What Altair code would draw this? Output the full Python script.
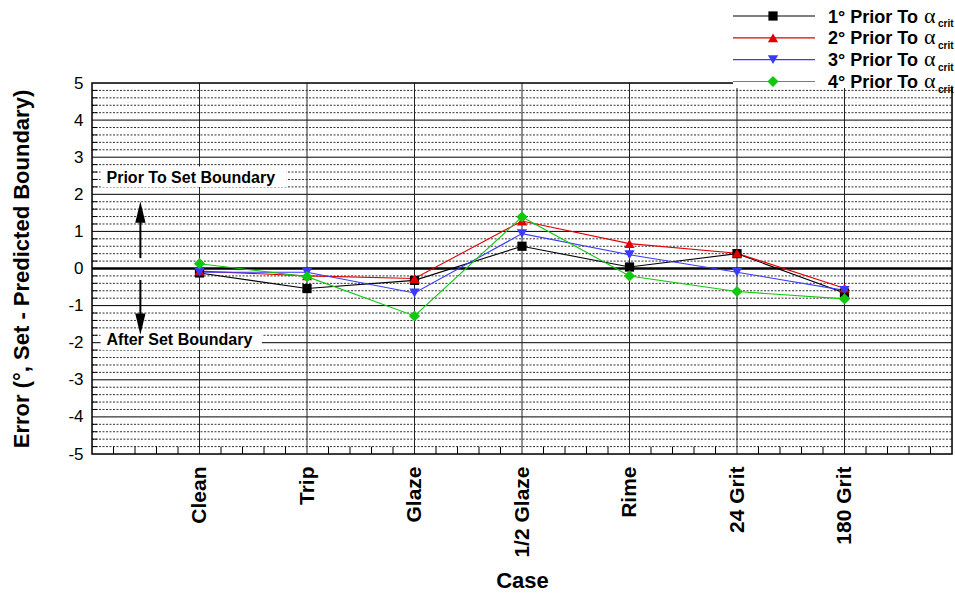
import json
import numpy as np
import pandas as pd
import altair as alt

FONT = "Liberation Sans"

# ---------------- data ----------------
cases = ["Clean", "Trip", "Glaze", "1/2 Glaze", "Rime", "24 Grit", "180 Grit"]
case_pos = [1, 2, 3, 4, 5, 6, 7]
series = ["1°", "2°", "3°", "4°"]
legend_labels = ["1° Prior To", "2° Prior To", "3° Prior To", "4° Prior To"]
s1 = [-0.12, -0.54, -0.32, 0.60, 0.04, 0.40, -0.66]
s2 = [-0.07, -0.20, -0.27, 1.28, 0.67, 0.41, -0.53]
s3 = [-0.10, -0.10, -0.66, 0.94, 0.37, -0.10, -0.59]
s4 = [0.13, -0.22, -1.28, 1.39, -0.20, -0.62, -0.82]
colors = ["#000000", "#e00000", "#3a3aff", "#10c810"]
shapes = ["square", "triangle-up", "triangle-down", "diamond"]
sizes = [85, 105, 105, 125]

y_ticks = [-5, -4, -3, -2, -1, 0, 1, 2, 3, 4, 5]
y_major = [-4, -3, -2, -1, 1, 2, 3, 4]
y_minor = [round(v, 1) for v in np.arange(-5, 5.001, 0.2) if abs(v - round(v)) > 1e-6]
x_minor = [round(v, 1) for v in np.arange(0, 8.001, 0.2) if abs(v - round(v)) > 1e-6]

annot_text = ["Prior To Set Boundary", "After Set Boundary"]
annot_x = [0.135, 0.135]
annot_y = [2.45, -1.93]
box_x0 = [0.08, 0.08]
box_x1 = [1.81, 1.58]
box_y0 = [2.2, -1.68]
box_y1 = [2.75, -2.2]

arrow_x = [0.45, 0.45]
arrow_y0 = [0.28, -0.31]
arrow_y1 = [1.3, -1.35]
up_head_y = [1.52]
down_head_y = [-1.5]

# ---------------- tables ----------------
rows = []
for s, vals in zip(series, [s1, s2, s3, s4]):
    for c, p, v in zip(cases, case_pos, vals):
        rows.append({"series": s, "case": c, "x": p, "y": v})
df = pd.DataFrame(rows)

xs = alt.Scale(domain=[0, 8], nice=False, zero=False)
ys = alt.Scale(domain=[-5, 5], nice=False, zero=False)

label_expr = json.dumps([""] + cases + [""]) + "[datum.value]"
xaxis = alt.Axis(values=case_pos, labelExpr=label_expr, labelAngle=-90, labelAlign="right",
                 labelBaseline="middle", labelFontSize=21, labelFontWeight="bold", labelFont=FONT,
                 labelPadding=12, labelColor="black", ticks=False, domain=False, grid=False,
                 labelOverlap=False, title="Case", titleFontSize=22, titleFontWeight="bold",
                 titleFont=FONT, titleColor="black", titlePadding=13)
yaxis = alt.Axis(values=y_ticks, labelExpr="'' + datum.value", labelFontSize=17, labelFont=FONT,
                 labelColor="black", labelPadding=9, ticks=False, domain=False, grid=False,
                 labelOverlap=False,
                 title="Error (°, Set - Predicted Boundary)", titleFontSize=22, titleFontWeight="bold",
                 titleFont=FONT, titleColor="black", titlePadding=34)


def X(f):
    return alt.X(f, type="quantitative", scale=xs, axis=xaxis)


def Y(f):
    return alt.Y(f, type="quantitative", scale=ys, axis=yaxis)


# minor horizontal dotted grid
d_minor = pd.DataFrame({"y": y_minor, "x0": 0, "x1": 8})
minor_grid = alt.Chart(d_minor).mark_rule(color="#333", strokeWidth=1, strokeDash=[2, 1.5]).encode(
    x=X("x0"), x2="x1", y=Y("y"))
d_minor_t = pd.DataFrame({"y": y_minor, "x0": 0, "x1": 0.05})
minor_ticks = alt.Chart(d_minor_t).mark_rule(color="black", strokeWidth=1).encode(
    x=X("x0"), x2="x1", y=Y("y"))

d_major = pd.DataFrame({"y": y_major, "x0": 0, "x1": 8})
major_grid = alt.Chart(d_major).mark_rule(color="black", strokeWidth=1).encode(
    x=X("x0"), x2="x1", y=Y("y"))

d_vert = pd.DataFrame({"x": case_pos, "y0": -5, "y1": 5})
vert_grid = alt.Chart(d_vert).mark_rule(color="#222", strokeWidth=1).encode(
    x=X("x"), y=Y("y0"), y2="y1")

d_xt = pd.DataFrame({"x": x_minor, "y0": -5, "y1": -4.8})
x_ticks = alt.Chart(d_xt).mark_rule(color="black", strokeWidth=1).encode(
    x=X("x"), y=Y("y0"), y2="y1")

d_zero = pd.DataFrame({"y": [0], "x0": [0], "x1": [8]})
zero_line = alt.Chart(d_zero).mark_rule(color="black", strokeWidth=2.5).encode(
    x=X("x0"), x2="x1", y=Y("y"))

d_frame = pd.DataFrame({"x0": [0], "x1": [8], "y0": [-5], "y1": [5]})
frame = alt.Chart(d_frame).mark_rect(fill="white", fillOpacity=0, stroke="black", strokeWidth=1.5).encode(
    x=X("x0"), x2="x1", y=Y("y0"), y2="y1")

d_box = pd.DataFrame({"x0": box_x0, "x1": box_x1, "y0": box_y0, "y1": box_y1})
boxes = alt.Chart(d_box).mark_rect(fill="white").encode(
    x=X("x0"), x2="x1", y=Y("y0"), y2="y1")

d_annot = pd.DataFrame({"x": annot_x, "y": annot_y, "t": annot_text})
annots = alt.Chart(d_annot).mark_text(align="left", baseline="middle", font=FONT, fontSize=16,
                                      fontWeight="bold", color="black").encode(
    x=X("x"), y=Y("y"), text="t:N")

d_arrow = pd.DataFrame({"x": arrow_x, "y0": arrow_y0, "y1": arrow_y1})
shafts = alt.Chart(d_arrow).mark_rule(color="black", strokeWidth=2).encode(
    x=X("x"), y=Y("y0"), y2="y1")
up_head = alt.Chart(pd.DataFrame({"x": arrow_x[:1], "hy": up_head_y})).mark_point(
    filled=True, color="black", opacity=1, size=460, shape="M0,-1L0.48,1L-0.48,1Z").encode(
    x=X("x"), y=Y("hy"))
down_head = alt.Chart(pd.DataFrame({"x": arrow_x[1:], "hy": down_head_y})).mark_point(
    filled=True, color="black", opacity=1, size=460, shape="M0,1L0.48,-1L-0.48,-1Z").encode(
    x=X("x"), y=Y("hy"))

color_enc = alt.Color("series:N", scale=alt.Scale(domain=series, range=colors), legend=None)
shape_enc = alt.Shape("series:N", scale=alt.Scale(domain=series, range=shapes), legend=None)
size_enc = alt.Size("series:N", scale=alt.Scale(type="ordinal", domain=series, range=sizes), legend=None)

lines = alt.Chart(df).mark_line(strokeWidth=1.1).encode(
    x=X("x"), y=Y("y"), color=color_enc, detail="series:N")
points = alt.Chart(df).mark_point(filled=True, opacity=1).encode(
    x=X("x"), y=Y("y"), color=color_enc, shape=shape_enc, size=size_enc)

main = alt.layer(minor_grid, minor_ticks, major_grid, vert_grid, x_ticks, zero_line, frame,
                 boxes, annots, shafts, up_head, down_head, lines, points)

# ---------------- legend ----------------
d_leg = pd.DataFrame({"series": series, "label": legend_labels})
leg_y = alt.Y("series:N", scale=alt.Scale(type="point", domain=series, range=[-67, -1.5], padding=0),
              axis=None)
leg_box = alt.Chart(pd.DataFrame({"series": [series[0]]})).mark_rect(fill="white").encode(
    x=alt.value(641), x2=alt.value(880), y=alt.value(-90), y2=alt.value(5))
leg_lines = alt.Chart(d_leg).mark_rule(strokeWidth=1.1).encode(
    x=alt.value(641), x2=alt.value(723), y=leg_y, color=color_enc)
leg_pts = alt.Chart(d_leg).mark_point(filled=True, opacity=1).encode(
    x=alt.value(681), y=leg_y, color=color_enc, shape=shape_enc, size=size_enc)
leg_text = alt.Chart(d_leg).mark_text(align="left", baseline="alphabetic", dy=6.5, font=FONT,
                                      fontSize=18, fontWeight="bold", color="black").encode(
    x=alt.value(736), y=leg_y, text="label:N")
leg_alpha = alt.Chart(d_leg).mark_text(align="left", baseline="alphabetic", dy=6.5,
                                       font="Liberation Serif", fontSize=22, color="black",
                                       text="α").encode(x=alt.value(832), y=leg_y)
leg_crit = alt.Chart(d_leg).mark_text(align="left", baseline="alphabetic", dy=11, font=FONT,
                                      fontSize=10, fontWeight="bold", color="black",
                                      text="crit").encode(x=alt.value(846), y=leg_y)
legend = alt.layer(leg_box, leg_lines, leg_pts, leg_text, leg_alpha, leg_crit)

chart = alt.layer(main, legend).resolve_scale(y="independent").properties(
    width=860, height=371,
    padding={"left": 92, "top": 83, "right": 3, "bottom": 140},
    autosize=alt.AutoSizeParams(type="none"),
    background="white",
).configure_view(stroke=None).configure(font=FONT)

chart.save("out.html", embed_options={"renderer": "svg", "actions": False})
